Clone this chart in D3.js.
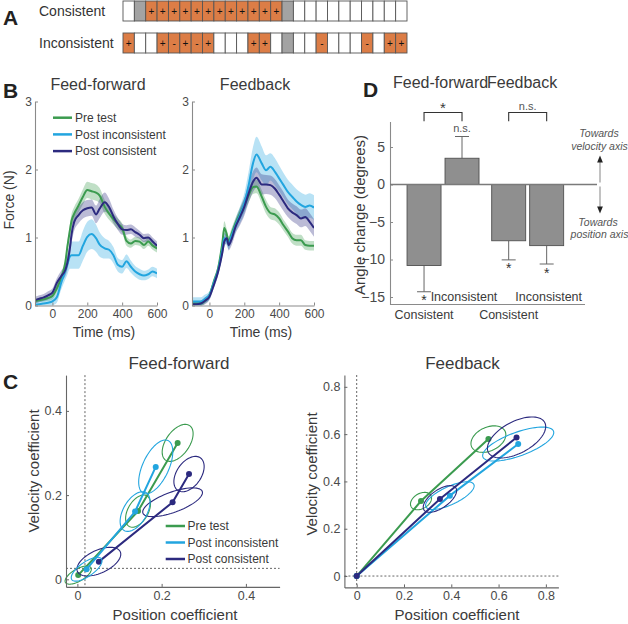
<!DOCTYPE html>
<html><head><meta charset="utf-8">
<script src="https://cdn.jsdelivr.net/npm/d3@7"></script>
<style>body{margin:0;background:#fff}</style>
</head><body>
<script>
// ---------------- DATA ----------------
// Panel A: block sequences ("+", "-" = perturbation sign (orange), "G" = gray block, "" = empty)
const rowNames = ["Consistent", "Inconsistent"];
const consistentCells = ["","G","+","+","+","+","+","+","+","+","+","+","+","+","G","","","","","","","","","",""];
const inconsistentCells = ["+","","","+","-","+","-","+","","","","+","+","","G","","","-","","","","-","","+","+"];

// Panel B: force traces
const seriesNames = ["Pre test", "Post inconsistent", "Post consistent"];
const timeMs = [-100,-75,-50,-25,0,25,50,75,85,100,110,125,150,175,200,225,250,270,300,325,350,375,400,425,450,475,500,525,550,575,600];
const ffPre     = [0.06,0.08,0.09,0.11,0.14,0.25,0.40,0.65,0.85,1.10,1.25,1.35,1.47,1.60,1.70,1.68,1.66,1.62,1.45,1.35,1.27,1.20,1.14,0.95,0.91,0.95,0.94,0.89,0.94,0.88,0.84];
const ffPreSem  = [0.03,0.03,0.03,0.04,0.05,0.06,0.07,0.08,0.09,0.10,0.10,0.10,0.10,0.11,0.12,0.12,0.12,0.11,0.10,0.09,0.08,0.08,0.07,0.07,0.06,0.06,0.06,0.06,0.06,0.06,0.06];
const ffInc     = [0.01,0.02,0.03,0.04,0.06,0.12,0.33,0.52,0.60,0.72,0.74,0.74,0.74,0.88,1.01,1.05,0.99,0.90,0.84,0.82,0.74,0.60,0.57,0.65,0.57,0.50,0.46,0.44,0.46,0.50,0.47];
const ffIncSem  = [0.05,0.05,0.05,0.05,0.06,0.08,0.10,0.13,0.15,0.18,0.20,0.20,0.20,0.22,0.22,0.22,0.20,0.18,0.15,0.13,0.12,0.10,0.10,0.10,0.09,0.08,0.08,0.07,0.07,0.07,0.07];
const ffCon     = [0.08,0.10,0.12,0.15,0.19,0.33,0.43,0.53,0.62,0.84,1.05,1.23,1.33,1.40,1.43,1.44,1.34,1.42,1.52,1.45,1.31,1.20,1.12,1.11,1.12,1.08,1.04,0.99,1.00,0.94,0.88];
const ffConSem  = [0.05,0.05,0.05,0.06,0.06,0.07,0.08,0.09,0.10,0.12,0.13,0.13,0.12,0.12,0.12,0.12,0.13,0.14,0.14,0.12,0.10,0.09,0.08,0.07,0.07,0.07,0.06,0.06,0.06,0.06,0.06];
const fbPre     = [0.03,0.03,0.03,0.07,0.15,0.35,0.55,0.94,1.14,1.04,0.94,1.04,1.21,1.35,1.48,1.62,1.74,1.75,1.60,1.45,1.36,1.34,1.28,1.18,1.09,0.99,0.96,0.96,0.89,0.88,0.88];
const fbPreSem  = [0.04,0.04,0.04,0.04,0.05,0.05,0.06,0.08,0.10,0.08,0.08,0.08,0.08,0.09,0.10,0.10,0.10,0.10,0.10,0.10,0.09,0.09,0.09,0.08,0.08,0.08,0.08,0.08,0.07,0.07,0.07];
const fbInc     = [0.06,0.06,0.06,0.10,0.15,0.33,0.52,0.84,0.99,0.96,0.91,1.01,1.18,1.33,1.50,1.77,2.09,2.22,2.09,1.99,2.04,1.97,1.87,1.77,1.67,1.60,1.53,1.48,1.45,1.47,1.44];
const fbIncSem  = [0.06,0.06,0.06,0.06,0.06,0.06,0.07,0.08,0.08,0.08,0.08,0.09,0.10,0.12,0.15,0.20,0.24,0.26,0.25,0.22,0.20,0.20,0.19,0.18,0.18,0.18,0.18,0.18,0.18,0.18,0.18];
const fbCon     = [0.02,0.02,0.03,0.07,0.13,0.30,0.50,0.79,0.94,0.99,0.89,0.96,1.16,1.30,1.45,1.65,1.82,1.88,1.78,1.78,1.77,1.72,1.63,1.53,1.43,1.37,1.33,1.28,1.30,1.23,1.14];
const fbConSem  = [0.04,0.04,0.04,0.05,0.05,0.05,0.06,0.07,0.08,0.08,0.08,0.09,0.10,0.12,0.13,0.14,0.15,0.15,0.15,0.14,0.14,0.14,0.14,0.14,0.13,0.13,0.13,0.13,0.13,0.13,0.13];
const forceTicksX = [0,200,400,600];
const forceTicksY = [0,1,2,3];

// Panel D: angle change
const angleGroups = ["Feed-forward", "Feedback"];
const angleConds = ["Consistent", "Inconsistent"];
const angleMeans = [[-10.8, 3.5], [-7.5, -8.15]];
const angleErr = [[3.5, 2.9], [2.55, 2.45]];
const angleSigEach = [["*", "n.s."], ["*", "*"]];
const angleSigBetween = ["*", "n.s."];
const angleTicks = [-15,-10,-5,0,5];

// Panel C: regression coefficients (3 points per series for feed-forward, origin + 2 for feedback)
const ffPosCoef = { pre:[0.002,0.144,0.238], inc:[0.022,0.137,0.186], con:[0.051,0.226,0.265] };
const ffVelCoef = { pre:[0.010,0.162,0.324], inc:[0.024,0.161,0.267], con:[0.042,0.183,0.250] };
const ffEllA    = { pre:[0.035,0.042,0.050], inc:[0.043,0.052,0.069], con:[0.056,0.075,0.047] };
const ffEllB    = { pre:[0.0145,0.024,0.028], inc:[0.017,0.028,0.031], con:[0.027,0.024,0.029] };
const ffEllAng  = { pre:[30,60,55], inc:[35,60,65], con:[25,20,55] };
const fbPosCoef = { pre:[0,0.272,0.557], inc:[0,0.394,0.683], con:[0,0.352,0.676] };
const fbVelCoef = { pre:[0,0.317,0.579], inc:[0,0.340,0.558], con:[0,0.326,0.586] };
const fbEllA    = { pre:[0,0.048,0.078], inc:[0,0.112,0.159], con:[0,0.082,0.135] };
const fbEllB    = { pre:[0,0.032,0.050], inc:[0,0.038,0.050], con:[0,0.038,0.067] };
const fbEllAng  = { pre:[0,30,25], inc:[0,25,20], con:[0,35,28] };
const ffCoefTicks = [0,0.2,0.4];
const fbCoefTicks = [0,0.2,0.4,0.6,0.8];
const ffRefLines = [0.018, 0.026]; // dashed reference (x, y)
const fbRefLines = [0, 0];

// ---------------- STYLE ----------------
const F = "Arial, 'Liberation Sans', Helvetica, sans-serif";
const TXT = "#3a3a3a";
const TICK = "#4a4a4a";
const AX = "#8a8a8a";
const colors = { pre:"#3b9b4f", inc:"#22a5df", con:"#2c2a7f" };
const keys = ["pre","inc","con"];

const svg = d3.select("body").append("svg").attr("width",628).attr("height",624);
const defs = svg.append("defs");

function text(x,y,s,o={}){
  const t = svg.append("text").attr("x",x).attr("y",y).text(s)
    .attr("font-family",F).attr("font-size",o.size||12).attr("fill",o.fill||TXT)
    .attr("text-anchor",o.anchor||"start");
  if(o.weight) t.attr("font-weight",o.weight);
  if(o.style) t.attr("font-style",o.style);
  if(o.rotate) t.attr("transform",`rotate(-90,${x},${y})`);
  return t;
}
function styleAxis(g, lineColor, size){
  g.select(".domain").attr("stroke",lineColor).attr("stroke-width",1.1);
  g.selectAll(".tick line").attr("stroke",lineColor);
  g.selectAll(".tick text").attr("fill",TICK).attr("font-family",F).attr("font-size",size);
}

// ---------------- PANEL A ----------------
text(3,25,"A",{size:21,weight:"bold",fill:"#222"});
const cellX = d3.scaleBand().domain(d3.range(consistentCells.length)).range([123,407]);
const rowY = d3.scaleBand().domain(rowNames).range([1,53]).paddingInner(0.375);
[consistentCells, inconsistentCells].forEach((cells,ri)=>{
  const r = rowNames[ri];
  text(39, rowY(r)+rowY.bandwidth()/2+5, r, {size:14, fill:"#333"});
  const g = svg.append("g");
  g.selectAll("rect").data(cells).join("rect")
    .attr("x",(d,i)=>cellX(i)).attr("y",rowY(r))
    .attr("width",cellX.bandwidth()).attr("height",rowY.bandwidth())
    .attr("fill",d=> d==="G" ? "#a3a3a3" : (d==="+"||d==="-") ? "#dc7d46" : "#fff")
    .attr("stroke","#555").attr("stroke-width",0.9);
  g.selectAll("text").data(cells).join("text")
    .attr("x",(d,i)=>cellX(i)+cellX.bandwidth()/2).attr("y",rowY(r)+rowY.bandwidth()/2+3.5)
    .attr("text-anchor","middle").attr("font-family",F).attr("font-size",10).attr("fill","#111")
    .text(d=> (d==="+"||d==="-") ? d : "");
});

// ---------------- PANEL B ----------------
text(3,98,"B",{size:21,weight:"bold",fill:"#222"});
function forcePanel(id, x0, x1, title, seriesVals, seriesSem, legend){
  const x = d3.scaleLinear().domain([-100,600]).range([x0,x1]);
  const y = d3.scaleLinear().domain([0,3]).range([305.5,101.5]);
  defs.append("clipPath").attr("id",id).append("rect")
    .attr("x",x0).attr("y",101.5).attr("width",x1-x0).attr("height",204);
  const g = svg.append("g").attr("clip-path",`url(#${id})`);
  keys.forEach((k,i)=>{
    const area = d3.area().curve(d3.curveMonotoneX)
      .x((d,j)=>x(timeMs[j])).y0((d,j)=>y(seriesVals[i][j]-seriesSem[i][j])).y1((d,j)=>y(seriesVals[i][j]+seriesSem[i][j]));
    g.append("path").datum(seriesVals[i]).attr("d",area).attr("fill",colors[k]).attr("opacity",0.32);
  });
  keys.forEach((k,i)=>{
    const line = d3.line().curve(d3.curveMonotoneX).x((d,j)=>x(timeMs[j])).y(d=>y(d));
    g.append("path").datum(seriesVals[i]).attr("d",line).attr("fill","none").attr("stroke",colors[k]).attr("stroke-width",2);
  });
  const ax = svg.append("g").attr("transform",`translate(0,${y(0)})`)
    .call(d3.axisBottom(x).tickValues(forceTicksX).tickFormat(d3.format("d")).tickSizeInner(-3).tickSizeOuter(0).tickPadding(4));
  styleAxis(ax, AX, 12);
  const ay = svg.append("g").attr("transform",`translate(${x0},0)`)
    .call(d3.axisLeft(y).tickValues(forceTicksY).tickFormat(d3.format("d")).tickSizeInner(-3).tickSizeOuter(0).tickPadding(3));
  styleAxis(ay, AX, 12);
  text((x0+x1)/2+2, 90, title, {size:16, anchor:"middle"});
  text((x0+x1)/2+8, 337, "Time (ms)", {size:14, anchor:"middle"});
  if(legend){
    keys.forEach((k,i)=>{
      const ly = 117.7 + i*16.7;
      svg.append("line").attr("x1",53).attr("x2",72).attr("y1",ly).attr("y2",ly).attr("stroke",colors[k]).attr("stroke-width",2.5);
      text(75, ly+4.2, seriesNames[i], {size:12});
    });
  }
}
forcePanel("clipFF", 35, 157, "Feed-forward", [ffPre,ffInc,ffCon], [ffPreSem,ffIncSem,ffConSem], true);
forcePanel("clipFB", 192, 314, "Feedback", [fbPre,fbInc,fbCon], [fbPreSem,fbIncSem,fbConSem], false);
text(14, 200, "Force (N)", {size:14, anchor:"middle", rotate:true});

// ---------------- PANEL D ----------------
text(363,97,"D",{size:21,weight:"bold",fill:"#222"});
text(393,88.3,"Feed-forward",{size:16});
text(487,88.3,"Feedback",{size:16});
const dy = d3.scaleLinear().domain([-16,8.4]).range([304.5,121.5]);
const gx = d3.scaleBand().domain(angleGroups).range([400.7,570]);
const cx = d3.scaleBand().domain(angleConds).range([0,gx.bandwidth()]).paddingInner(0.105).paddingOuter(0.167);
const dAxisY = svg.append("g").attr("transform","translate(390,0)")
  .call(d3.axisLeft(dy).tickValues(angleTicks).tickSizeInner(-3).tickSizeOuter(0).tickPadding(5));
styleAxis(dAxisY, AX, 14);
svg.append("line").attr("x1",390).attr("x2",585).attr("y1",dy(-16)).attr("y2",dy(-16)).attr("stroke",AX).attr("stroke-width",1.1);
angleGroups.forEach((gname,gi)=>{
  angleConds.forEach((c,ci)=>{
    const m = angleMeans[gi][ci], e = angleErr[gi][ci];
    const bx = gx(gname)+cx(c), bw = cx.bandwidth(), mid = bx+bw/2;
    const end = m + Math.sign(m)*e;
    svg.append("line").attr("x1",mid).attr("x2",mid).attr("y1",dy(m)).attr("y2",dy(end)).attr("stroke","#666").attr("stroke-width",1);
    svg.append("line").attr("x1",mid-7).attr("x2",mid+7).attr("y1",dy(end)).attr("y2",dy(end)).attr("stroke","#666").attr("stroke-width",1);
    svg.append("rect").attr("x",bx).attr("width",bw).attr("y",dy(Math.max(0,m))).attr("height",Math.abs(dy(m)-dy(0)))
      .attr("fill","#8f8f8f").attr("stroke","#505050").attr("stroke-width",0.9);
    const s = angleSigEach[gi][ci];
    if(s==="*"){
      const yy = m<0 ? dy(end)+13.5 : dy(end)-1;
      text(mid, yy, "*", {size:14, anchor:"middle", fill:"#333"});
    } else {
      text(mid, m<0 ? dy(end)+12 : dy(end)-4.5, s, {size:11, anchor:"middle", fill:"#555"});
    }
    // category labels
    if(c==="Inconsistent") text(mid+2, 301, c, {size:12.5, anchor:"middle"});
    else text(mid, 319, c, {size:12.5, anchor:"middle"});
  });
  const m1 = gx(gname)+cx(angleConds[0])+cx.bandwidth()/2, m2 = gx(gname)+cx(angleConds[1])+cx.bandwidth()/2;
  svg.append("path").attr("d",`M${m1},${dy(8.45)}V${dy(9.6)}H${m2}V${dy(8.45)}`).attr("fill","none").attr("stroke","#333").attr("stroke-width",1.1);
  const sb = angleSigBetween[gi];
  if(sb==="*") text((m1+m2)/2, 113, "*", {size:15, anchor:"middle"});
  else text((m1+m2)/2, 109.5, sb, {size:11, anchor:"middle", fill:"#555"});
});
svg.append("line").attr("x1",390).attr("x2",597).attr("y1",dy(0)).attr("y2",dy(0)).attr("stroke","#7a7a7a").attr("stroke-width",1.3);
text(365, 215, "Angle change (degrees)", {size:15, anchor:"middle", rotate:true});
// direction annotation
defs.append("marker").attr("id","arr").attr("viewBox","0 0 10 10").attr("refX",5).attr("refY",5)
  .attr("markerWidth",6).attr("markerHeight",6).attr("orient","auto-start-reverse")
  .append("path").attr("d","M0,1L10,5L0,9Z").attr("fill","#222");
svg.append("line").attr("x1",600).attr("x2",600).attr("y1",dy(0)-2).attr("y2",dy(3.4)).attr("stroke","#999").attr("stroke-width",1.2).attr("marker-end","url(#arr)");
svg.append("line").attr("x1",600).attr("x2",600).attr("y1",dy(0)+2).attr("y2",dy(-3.4)).attr("stroke","#999").attr("stroke-width",1.2).attr("marker-end","url(#arr)");
text(599,137,"Towards",{size:10.5,anchor:"middle",style:"italic",fill:"#555"});
text(599.5,150,"velocity axis",{size:10.5,anchor:"middle",style:"italic",fill:"#555"});
text(598,225.5,"Towards",{size:10.5,anchor:"middle",style:"italic",fill:"#555"});
text(599.5,238,"position axis",{size:10.5,anchor:"middle",style:"italic",fill:"#555"});

// ---------------- PANEL C ----------------
text(3,389,"C",{size:21,weight:"bold",fill:"#222"});
function coefPanel(xDom, xRng, yDom, yRng, ticks, pos, vel, ea, eb, eang, ref, startOrigin, order, title, titleX, xLabX, yLabX, yLabY, legend){
  const x = d3.scaleLinear().domain(xDom).range(xRng);
  const y = d3.scaleLinear().domain(yDom).range(yRng);
  // dashed ref lines
  svg.append("line").attr("x1",x(ref[0])).attr("x2",x(ref[0])).attr("y1",yRng[1]).attr("y2",yRng[0])
    .attr("stroke","#555").attr("stroke-width",0.9).attr("stroke-dasharray","2,2");
  svg.append("line").attr("x1",xRng[0]).attr("x2",xRng[1]).attr("y1",y(ref[1])).attr("y2",y(ref[1]))
    .attr("stroke","#555").attr("stroke-width",0.9).attr("stroke-dasharray","2,2");
  const ell = d3.line().curve(d3.curveLinearClosed).x(d=>x(d[0])).y(d=>y(d[1]));
  order.forEach(k=>{
    const g = svg.append("g");
    const n = pos[k].length;
    for(let i=0;i<n;i++){
      if(ea[k][i]<=0) continue;
      const th = eang[k][i]*Math.PI/180, a = ea[k][i], b = eb[k][i];
      const pts = d3.range(72).map(j=>{
        const p = j/72*2*Math.PI;
        return [pos[k][i] + a*Math.cos(th)*Math.cos(p) - b*Math.sin(th)*Math.sin(p),
                vel[k][i] + a*Math.sin(th)*Math.cos(p) + b*Math.cos(th)*Math.sin(p)];
      });
      g.append("path").datum(pts).attr("d",ell).attr("fill","none").attr("stroke",colors[k]).attr("stroke-width",1.1);
    }
    const pts = pos[k].map((p,i)=>[p, vel[k][i]]);
    if(startOrigin && pts[0][0]!==0) pts.unshift([0,0]);
    g.append("path").datum(pts).attr("d",d3.line().x(d=>x(d[0])).y(d=>y(d[1])))
      .attr("fill","none").attr("stroke",colors[k]).attr("stroke-width",2);
    g.selectAll("circle").data(pos[k].map((p,i)=>[p,vel[k][i]])).join("circle")
      .attr("cx",d=>x(d[0])).attr("cy",d=>y(d[1])).attr("r",3).attr("fill",colors[k]);
  });
  const ax = svg.append("g").attr("transform",`translate(0,${yRng[0]})`)
    .call(d3.axisBottom(x).tickValues(ticks).tickFormat(d=>d===0?"0":d3.format(".1f")(d)).tickSizeInner(-3).tickSizeOuter(0).tickPadding(4));
  styleAxis(ax, "#666", 12.5);
  const ay = svg.append("g").attr("transform",`translate(${xRng[0]},0)`)
    .call(d3.axisLeft(y).tickValues(ticks).tickFormat(d=>d===0?"0":d3.format(".1f")(d)).tickSizeInner(-3).tickSizeOuter(0).tickPadding(4));
  styleAxis(ay, "#666", 12.5);
  text(titleX, 369, title, {size:17, anchor:"middle"});
  text(xLabX, 620, "Position coefficient", {size:15, anchor:"middle"});
  text(yLabX, yLabY, "Velocity coefficient", {size:15, anchor:"middle", rotate:true});
  if(legend){
    keys.forEach((k,i)=>{
      const ly = 526 + i*16.5;
      svg.append("line").attr("x1",165.7).attr("x2",185).attr("y1",ly).attr("y2",ly).attr("stroke",colors[k]).attr("stroke-width",2.5);
      text(187.5, ly+4.2, seriesNames[i], {size:12});
    });
  }
}
coefPanel([-0.027,0.48],[66,279.6],[-0.018,0.485],[586.9,375.1], ffCoefTicks,
  ffPosCoef, ffVelCoef, ffEllA, ffEllB, ffEllAng, ffRefLines, false, ["pre","con","inc"],
  "Feed-forward", 179, 175, 39, 471, true);
coefPanel([-0.052,0.853],[344.4,558.4],[-0.048,0.85],[587.4,375], fbCoefTicks,
  fbPosCoef, fbVelCoef, fbEllA, fbEllB, fbEllAng, fbRefLines, true, ["pre","inc","con"],
  "Feedback", 462.5, 457, 317, 474, false);
</script>
</body></html>
